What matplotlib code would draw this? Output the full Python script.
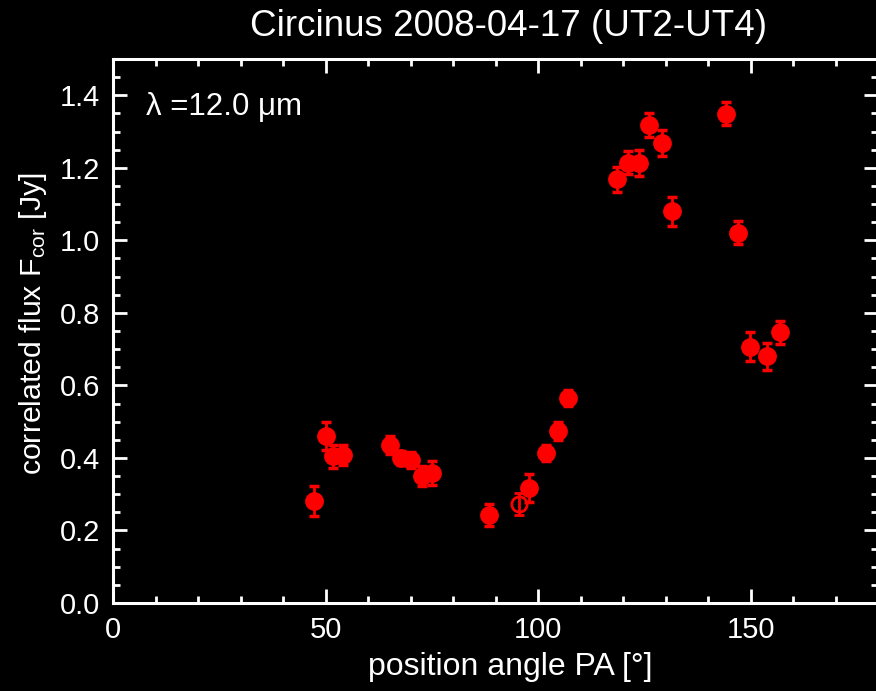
import matplotlib
matplotlib.use("Agg")
import matplotlib.pyplot as plt
from matplotlib.ticker import MultipleLocator
import numpy as np

plt.rcParams['font.family'] = ['Liberation Sans', 'DejaVu Sans']
plt.rcParams['mathtext.default'] = 'regular'

# filled points
pa = [47.3, 50.1, 51.8, 54.0, 65.2, 67.8, 70.1, 72.8, 75.1, 88.4,
      97.9, 101.9, 104.6, 107.1, 118.5, 121.1, 123.8, 126.2, 129.1, 131.5,
      144.2, 147.0, 149.9, 153.9, 156.9]
flux = [0.282, 0.460, 0.405, 0.408, 0.436, 0.400, 0.393, 0.350, 0.358, 0.242,
        0.318, 0.414, 0.475, 0.565, 1.168, 1.214, 1.214, 1.318, 1.268, 1.080,
        1.349, 1.021, 0.706, 0.680, 0.746]
ferr = [0.041, 0.038, 0.032, 0.027, 0.024, 0.020, 0.022, 0.028, 0.033, 0.031,
        0.039, 0.022, 0.025, 0.022, 0.034, 0.031, 0.036, 0.033, 0.036, 0.040,
        0.032, 0.031, 0.040, 0.037, 0.032]
# open point
pa_open = [95.5]
flux_open = [0.273]
ferr_open = [0.029]

fig = plt.figure(figsize=(8.76, 6.91), dpi=100, facecolor='black')
ax = fig.add_axes([113/876, 88/691, (878-113)/876, (603-59)/691])
ax.set_facecolor('black')

ax.errorbar(pa, flux, yerr=ferr, fmt='o', color='#ff0000', ms=12.5,
            elinewidth=2, capsize=3.5, capthick=2.5, mec='#ff0000', mfc='#ff0000')
ax.errorbar(pa_open, flux_open, yerr=ferr_open, fmt='o', color='#ff0000', ms=11,
            elinewidth=2, capsize=3.5, capthick=2.5, mec='#ff0000', mfc='none', mew=2)

ax.set_xlim(0, 180)
ax.set_ylim(0, 1.5)
ax.xaxis.set_major_locator(MultipleLocator(50))
ax.xaxis.set_minor_locator(MultipleLocator(10))
ax.yaxis.set_major_locator(MultipleLocator(0.2))
ax.yaxis.set_minor_locator(MultipleLocator(0.05))
ax.yaxis.set_major_formatter(matplotlib.ticker.FormatStrFormatter('%.1f'))

for s in ax.spines.values():
    s.set_color('white')
    s.set_linewidth(2.2)
ax.tick_params(which='both', direction='in', colors='white', top=True, right=True,
               labelsize=21, width=2)
ax.tick_params(which='major', length=10, pad=9)
ax.tick_params(which='minor', length=5)

ax.set_xlabel('position angle PA [°]', color='white', fontsize=23)
ax.xaxis.set_label_coords(0.519, -0.090)
ax.set_ylabel('correlated flux F$_{cor}$ [Jy]', color='white', fontsize=21.8)
ax.yaxis.set_label_coords(-0.084, 0.513)
fig.text(508/876, 1 - 27/691, 'Circinus 2008-04-17 (UT2-UT4)', color='white',
         fontsize=26.5, ha='center', va='center')
ax.text(7.8, 1.368, 'λ =12.0 μm', color='white', fontsize=22.5, ha='left', va='center')

fig.savefig('out.png', dpi=100, facecolor='black')
